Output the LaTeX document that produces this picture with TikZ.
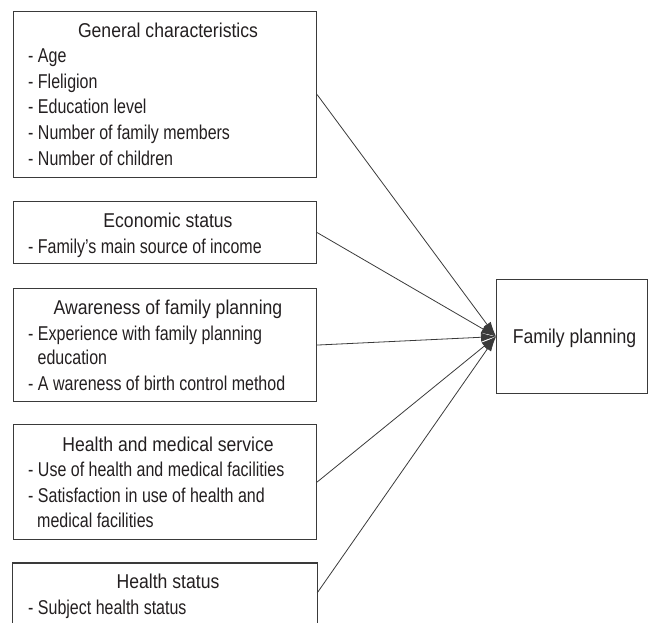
\documentclass[tikz,border=0pt]{standalone}
\usepackage{fontspec}
\setmainfont{Liberation Sans}[FakeStretch=0.80]
\newfontfamily\headfont{Liberation Sans}[FakeStretch=0.88]
\usetikzlibrary{arrows.meta}
\definecolor{ink}{HTML}{231F20}
\definecolor{rule}{HTML}{3A3A3A}
\begin{document}
\begin{tikzpicture}[x=1pt,y=-1pt,
  font=\fontsize{20}{25.6}\selectfont,
  box/.style={draw=rule, line width=1.1pt, rectangle, inner sep=0pt, anchor=north west},
  head/.style={text=ink, inner sep=0pt, anchor=base, font=\headfont\fontsize{20}{25.6}\selectfont},
  item/.style={text=ink, inner sep=0pt, anchor=base west},
  conn/.style={draw=rule, line width=0.8pt, -{Latex[length=15pt,width=9pt]}}]
\useasboundingbox (0,0) rectangle (650,622);

% factor boxes
\node[box, minimum width=303.5pt, minimum height=166pt] (gen) at (12.5,11) {};
\node[box, minimum width=303.5pt, minimum height=62pt]  (eco) at (12.5,201) {};
\node[box, minimum width=303.5pt, minimum height=113pt] (awa) at (12.5,288) {};
\node[box, minimum width=303.5pt, minimum height=115pt] (med) at (12.5,424) {};
% last box runs off the lower edge: only its top and sides are drawn
\node[box, draw=none, minimum width=303.5pt, minimum height=59pt] (hst) at (12.5,563) {};
\draw[rule, line width=1.1pt] (hst.south west) |- (hst.north east) -- (hst.south east);

% outcome box
\node[box, minimum width=151pt, minimum height=114pt] (fp) at (496,279) {};
\node[head] (fp-t) at (574.5,343.6) {Family planning};

% general characteristics
\node[head] (gen-t) at (168,37) {General characteristics};
\node[item] (gen-1) at (28,62)  {- Age};
\node[item] (gen-2) at (28,88)  {- Fleligion};
\node[item] (gen-3) at (28,113.5) {- Education level};
\node[item] (gen-4) at (28,139) {- Number of family members};
\node[item] (gen-5) at (28,165) {- Number of children};

% economic status
\node[head] (eco-t) at (168,227) {Economic status};
\node[item] (eco-1) at (28,253) {- Family’s main source of income};

% awareness of family planning
\node[head] (awa-t) at (168,314) {Awareness of family planning};
\node[item] (awa-1) at (28,340) {- Experience with family planning};
\node[item] (awa-1b) at (37.5,364.5) {education};
\node[item] (awa-2) at (28,390) {- A wareness of birth control method};

% health and medical service
\node[head] (med-t) at (168,451) {Health and medical service};
\node[item] (med-1) at (28,476) {- Use of health and medical facilities};
\node[item] (med-2) at (28,502) {- Satisfaction in use of health and};
\node[item] (med-2b) at (37,527) {medical facilities};

% health status
\node[head] (hst-t) at (168,588) {Health status};
\node[item] (hst-1) at (28,614) {- Subject health status};

% connectors
\draw[conn] (gen.east) -- (fp.west);
\draw[conn] (eco.east) -- (fp.west);
\draw[conn] (awa.east) -- (fp.west);
\draw[conn] (med.east) -- (fp.west);
\draw[conn] (hst.east) -- (fp.west);
\end{tikzpicture}
\end{document}
